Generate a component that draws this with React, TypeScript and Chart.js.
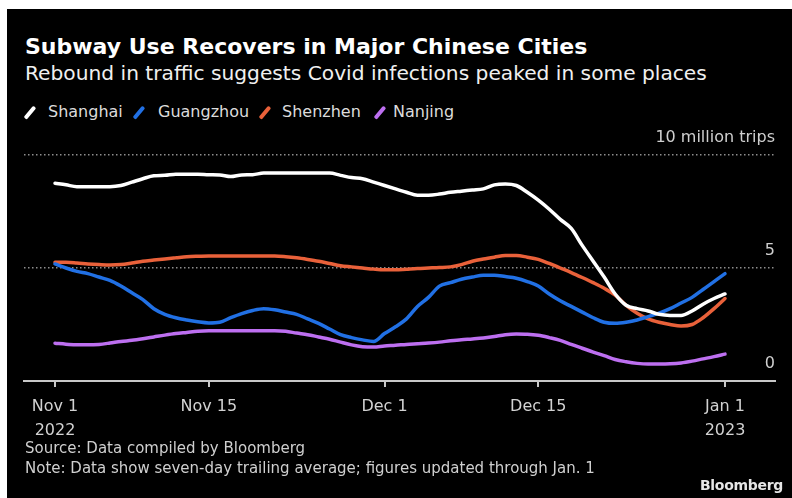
import React, { useEffect, useRef } from "react";
import { Chart, registerables } from "chart.js";

Chart.register(...registerables);

// Days since Nov 1, 2022 (Nov 1 .. Jan 1)
const dayIndex: number[] = [
  0, 1, 2, 3, 4, 5, 6, 7, 8, 9, 10, 11, 12, 13, 14, 15, 16, 17, 18, 19, 20,
  21, 22, 23, 24, 25, 26, 27, 28, 29, 30, 31, 32, 33, 34, 35, 36, 37, 38, 39,
  40, 41, 42, 43, 44, 45, 46, 47, 48, 49, 50, 51, 52, 53, 54, 55, 56, 57, 58,
  59, 60, 61,
];

// Subway trips, millions (seven-day trailing average)
const shanghai: number[] = [
  8.75, 8.68, 8.6, 8.6, 8.6, 8.6, 8.65, 8.8, 8.95, 9.08, 9.1, 9.15, 9.15, 9.15,
  9.13, 9.12, 9.05, 9.12, 9.13, 9.2, 9.2, 9.2, 9.2, 9.2, 9.2, 9.2, 9.1, 9.0,
  8.95, 8.8, 8.65, 8.5, 8.35, 8.22, 8.22, 8.27, 8.35, 8.4, 8.45, 8.5, 8.68,
  8.72, 8.65, 8.35, 8.0, 7.6, 7.15, 6.75, 6.0, 5.3, 4.6, 3.85, 3.35, 3.2, 3.1,
  2.95, 2.9, 2.9, 3.1, 3.4, 3.65, 3.85,
];
const guangzhou: number[] = [
  5.18, 5.0, 4.85, 4.75, 4.6, 4.45, 4.2, 3.9, 3.6, 3.2, 2.95, 2.8, 2.7, 2.62,
  2.57, 2.6, 2.8, 2.98, 3.12, 3.2, 3.15, 3.05, 2.95, 2.75, 2.55, 2.3, 2.05,
  1.92, 1.82, 1.75, 2.1, 2.4, 2.75, 3.3, 3.7, 4.2, 4.35, 4.5, 4.6, 4.68, 4.68,
  4.62, 4.55, 4.4, 4.2, 3.85, 3.55, 3.3, 3.05, 2.8, 2.6, 2.55, 2.6, 2.7, 2.85,
  3.0, 3.2, 3.45, 3.7, 4.05, 4.4, 4.75,
];
const shenzhen: number[] = [
  5.25, 5.25, 5.22, 5.18, 5.15, 5.13, 5.15, 5.22, 5.3, 5.35, 5.4, 5.45, 5.5,
  5.52, 5.53, 5.53, 5.53, 5.53, 5.53, 5.53, 5.53, 5.5, 5.45, 5.38, 5.3, 5.2,
  5.1, 5.05, 5.0, 4.95, 4.92, 4.92, 4.95, 4.98, 5.0, 5.02, 5.05, 5.15, 5.3,
  5.4, 5.48, 5.55, 5.55, 5.48, 5.38, 5.2, 5.0, 4.8, 4.58, 4.35, 4.1, 3.8,
  3.35, 3.0, 2.75, 2.6, 2.5, 2.43, 2.5, 2.8, 3.2, 3.65,
];
const nanjing: number[] = [
  1.67, 1.63, 1.6, 1.6, 1.62, 1.68, 1.75, 1.8, 1.87, 1.95, 2.03, 2.1, 2.15,
  2.2, 2.22, 2.22, 2.22, 2.22, 2.22, 2.22, 2.22, 2.2, 2.12, 2.05, 1.95, 1.85,
  1.72, 1.6, 1.52, 1.5, 1.55, 1.58, 1.62, 1.65, 1.68, 1.72, 1.78, 1.83, 1.86,
  1.9, 1.97, 2.05, 2.08, 2.07, 2.02, 1.92, 1.8, 1.62, 1.45, 1.28, 1.12, 0.95,
  0.85, 0.78, 0.75, 0.75, 0.76, 0.8, 0.88, 0.98, 1.08, 1.19,
];

const seriesNames: string[] = ["Shanghai", "Guangzhou", "Shenzhen", "Nanjing"];
const seriesColors: string[] = ["#ffffff", "#2170e4", "#e9613a", "#bd6ff0"];

const xTickDays: number[] = [0, 14, 30, 44, 61];
const xTickLabels: string[][] = [
  ["Nov 1", "2022"],
  ["Nov 15"],
  ["Dec 1"],
  ["Dec 15"],
  ["Jan 1", "2023"],
];
const yTickValues: number[] = [0, 5, 10];
const yTickLabels: string[] = ["0", "5", "10 million trips"];

const FONT = "'DejaVu Sans', Verdana, sans-serif";

const yLabelPlugin = {
  id: "yLabels",
  afterDraw(chart: any) {
    const { ctx, chartArea, scales } = chart;
    const y = scales.y;
    ctx.save();
    ctx.font = `16px ${FONT}`;
    ctx.fillStyle = "#cfcfcf";
    ctx.textAlign = "right";
    ctx.textBaseline = "middle";
    yTickValues.forEach((v, i) => {
      ctx.fillText(yTickLabels[i], chartArea.right, y.getPixelForValue(v) - 17);
    });
    ctx.restore();
  },
};

function LegendItem({ name, color, markerX, textX }: any) {
  return (
    <>
      <div
        style={{
          position: "absolute",
          left: markerX - 1.75,
          top: 95.5,
          width: 3.5,
          height: 15,
          background: color,
          borderRadius: 1.5,
          transform: "rotate(40deg)",
        }}
      />
      <div
        style={{
          position: "absolute",
          left: textX,
          top: 95,
          fontSize: 16,
          lineHeight: "16px",
          color: "#dcdcdc",
          whiteSpace: "nowrap",
        }}
      >
        {name}
      </div>
    </>
  );
}

export default function App() {
  const canvasRef = useRef<HTMLCanvasElement | null>(null);

  useEffect(() => {
    if (!canvasRef.current) return;
    const allSeries = [shanghai, guangzhou, shenzhen, nanjing];
    const chart = new Chart(canvasRef.current, {
      type: "line",
      data: {
        datasets: allSeries.map((s, i) => ({
          label: seriesNames[i],
          data: s.map((v, j) => ({ x: dayIndex[j], y: v })),
          borderColor: seriesColors[i],
          backgroundColor: seriesColors[i],
          borderWidth: 3.5,
          pointRadius: 0,
          cubicInterpolationMode: "monotone",
          borderCapStyle: "round",
          borderJoinStyle: "round",
          fill: false,
          order: i,
        })),
      },
      options: {
        responsive: false,
        animation: false,
        events: [],
        layout: { padding: { left: 17, right: 17, top: 146, bottom: 57 } },
        plugins: {
          legend: { display: false },
          title: { display: false },
          tooltip: { enabled: false },
        },
        scales: {
          x: {
            type: "linear",
            min: -2.822,
            max: 65.552,
            afterBuildTicks: (scale: any) => {
              scale.ticks = xTickDays.map((v) => ({ value: v }));
            },
            afterFit: (scale: any) => {
              scale.height = 60;
            },
            ticks: {
              autoSkip: false,
              maxRotation: 0,
              minRotation: 0,
              padding: 8,
              color: "#d2d2d2",
              font: { family: FONT, size: 16, lineHeight: 1.5 },
              callback: (value: any) => {
                const idx = xTickDays.indexOf(Number(value));
                return idx >= 0 ? xTickLabels[idx] : "";
              },
            },
            grid: {
              display: true,
              drawOnChartArea: false,
              drawTicks: true,
              tickLength: 6,
              color: "#c8c8c8",
              lineWidth: 2,
            },
            border: { display: true, color: "#c8c8c8", width: 2 },
          },
          y: {
            type: "linear",
            min: 0,
            max: 10,
            afterFit: (scale: any) => {
              scale.width = 0;
            },
            ticks: { display: false, stepSize: 5 },
            grid: {
              drawTicks: false,
              color: (ctx: any) =>
                ctx.tick && ctx.tick.value === 0 ? "rgba(0,0,0,0)" : "#8e8e8e",
              lineWidth: 1.5,
            },
            border: { display: false, dash: [1.5, 2.5] },
          },
        },
      },
      plugins: [yLabelPlugin],
    } as any);
    return () => chart.destroy();
  }, []);

  const markerXs = [23, 132, 258, 373];
  const textXs = [41, 151, 275, 386];

  return (
    <div
      style={{
        position: "absolute",
        left: 7,
        top: 9,
        width: 785,
        height: 489,
        background: "#000",
        fontFamily: FONT,
        overflow: "hidden",
      }}
    >
      <div
        style={{
          position: "absolute",
          left: 18,
          top: 26.5,
          fontSize: 22,
          lineHeight: "22px",
          fontWeight: "bold",
          color: "#ffffff",
          whiteSpace: "nowrap",
        }}
      >
        Subway Use Recovers in Major Chinese Cities
      </div>
      <div
        style={{
          position: "absolute",
          left: 18,
          top: 53.5,
          fontSize: 20.2,
          lineHeight: "20px",
          color: "#f0f0f0",
          whiteSpace: "nowrap",
        }}
      >
        Rebound in traffic suggests Covid infections peaked in some places
      </div>
      {seriesNames.map((n, i) => (
        <LegendItem
          key={n}
          name={n}
          color={seriesColors[i]}
          markerX={markerXs[i]}
          textX={textXs[i]}
        />
      ))}
      <canvas
        ref={canvasRef}
        width={785}
        height={489}
        style={{ position: "absolute", left: 0, top: 0, width: 785, height: 489 }}
      />
      <div
        style={{
          position: "absolute",
          left: 18,
          top: 432,
          fontSize: 15,
          lineHeight: "15px",
          color: "#cfcfcf",
          whiteSpace: "nowrap",
        }}
      >
        Source: Data compiled by Bloomberg
      </div>
      <div
        style={{
          position: "absolute",
          left: 18,
          top: 452,
          fontSize: 15,
          lineHeight: "15px",
          color: "#cfcfcf",
          whiteSpace: "nowrap",
        }}
      >
        Note: Data show seven-day trailing average; figures updated through Jan. 1
      </div>
      <div
        style={{
          position: "absolute",
          right: 9,
          top: 469,
          fontSize: 14,
          lineHeight: "14px",
          fontWeight: "bold",
          color: "#e6e6e6",
          letterSpacing: -0.3,
          whiteSpace: "nowrap",
        }}
      >
        Bloomberg
      </div>
    </div>
  );
}
